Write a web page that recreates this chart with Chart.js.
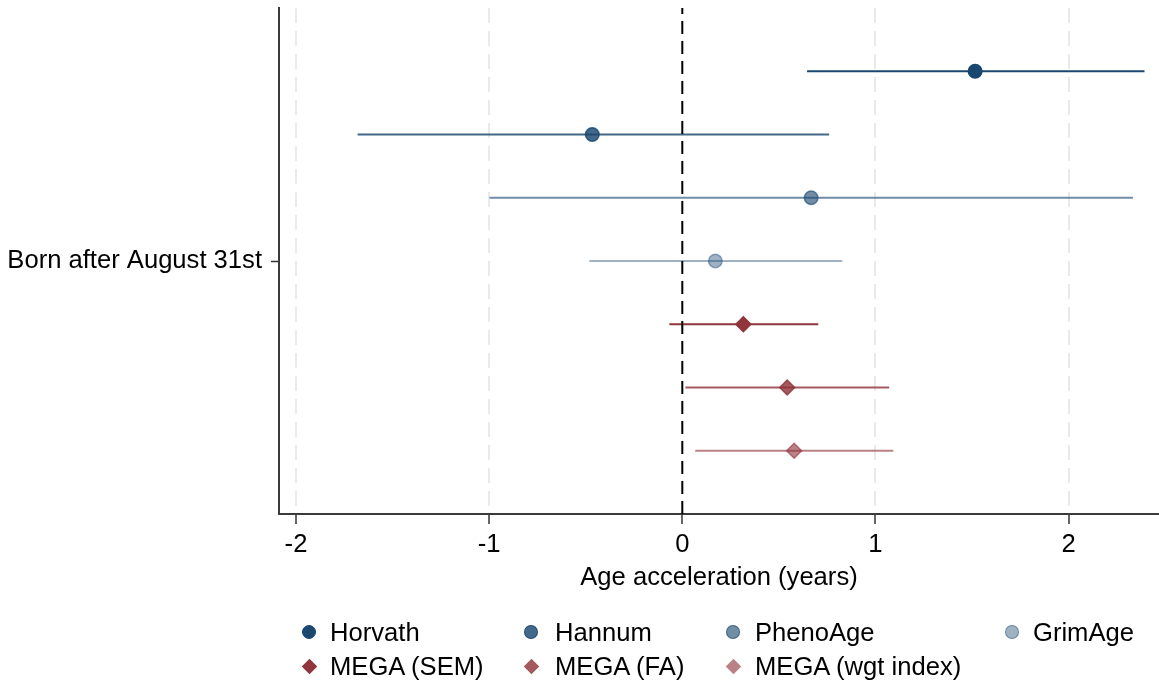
<!DOCTYPE html>
<html>
<head>
<meta charset="utf-8">
<script src="https://cdn.jsdelivr.net/npm/chart.js@4/dist/chart.umd.min.js"></script>
<style>
  html, body { margin: 0; padding: 0; background: #fff; }
  #wrap { position: relative; width: 1159px; height: 684px; overflow: hidden; }
  canvas { position: absolute; left: 0; top: 0; }
  .lg { position: absolute; font-family: 'Liberation Sans', Arial, sans-serif; font-size: 25.6px; line-height: 30px; color: #000; white-space: nowrap; }
  .mk { position: absolute; box-sizing: border-box; }
</style>
</head>
<body>
<div id="wrap">
  <canvas id="c" width="1159" height="684"></canvas>
  <div id="legend"></div>
</div>
<script>
// ---- data ----
const models = ['Horvath', 'Hannum', 'PhenoAge', 'GrimAge', 'MEGA (SEM)', 'MEGA (FA)', 'MEGA (wgt index)'];
const estimates = [1.516, -0.466, 0.667, 0.171, 0.316, 0.543, 0.579];
const ciLow = [0.646, -1.681, -0.998, -0.481, -0.067, 0.016, 0.067];
const ciHigh = [2.393, 0.760, 2.333, 0.828, 0.704, 1.071, 1.092];
const rowPos = [7, 6, 5, 4, 3, 2, 1];
const xTicks = [-2, -1, 0, 1, 2];
const yCategoryLabel = 'Born after August 31st';
const yCategoryPos = 4;
const xTitle = 'Age acceleration (years)';

// ---- styles ----
const seriesColors = [
  'rgba(26,71,111,1)', 'rgba(26,71,111,0.82)', 'rgba(26,71,111,0.62)', 'rgba(26,71,111,0.42)',
  'rgba(144,53,59,1)', 'rgba(144,53,59,0.82)', 'rgba(144,53,59,0.62)'
];
const seriesShapes = ['circle', 'circle', 'circle', 'circle', 'rectRot', 'rectRot', 'rectRot'];
const FS = 25.6;

Chart.defaults.font.family = "'Liberation Sans', Arial, sans-serif";
Chart.defaults.color = '#000';

const datasets = [];
models.forEach((m, i) => {
  datasets.push({
    type: 'line',
    label: m + ' CI',
    data: [{x: ciLow[i], y: rowPos[i]}, {x: ciHigh[i], y: rowPos[i]}],
    borderColor: seriesColors[i],
    borderWidth: 2.2,
    pointRadius: 0,
    fill: false,
    order: 2
  });
  datasets.push({
    type: 'scatter',
    label: m,
    data: [{x: estimates[i], y: rowPos[i]}],
    backgroundColor: seriesColors[i],
    borderColor: seriesColors[i],
    borderWidth: 1.5,
    pointStyle: seriesShapes[i],
    pointRadius: seriesShapes[i] === 'circle' ? 6.8 : 7.5,
    order: 0
  });
});
// zero reference line
datasets.push({
  type: 'line',
  label: 'zero',
  data: [{x: 0, y: 0}, {x: 0, y: 8}],
  borderColor: '#000',
  borderWidth: 2,
  borderDash: [13, 7],
  pointRadius: 0,
  fill: false,
  order: 1
});

new Chart(document.getElementById('c'), {
  type: 'scatter',
  data: { datasets },
  options: {
    responsive: false,
    animation: false,
    devicePixelRatio: 1,
    layout: { autoPadding: false, padding: { top: 8, right: 0, bottom: 0, left: 0 } },
    plugins: { legend: { display: false }, tooltip: { enabled: false } },
    scales: {
      x: {
        type: 'linear',
        min: -2.088,
        max: 2.468,
        afterBuildTicks: (s) => { s.ticks = xTicks.map(v => ({value: v})); },
        afterFit: (s) => { s.height = 170; },
        ticks: { font: { size: FS }, padding: 6, color: '#000', callback: (v) => String(v) },
        grid: {
          color: (ctx) => (ctx.tick && ctx.tick.value === 0) ? 'rgba(0,0,0,0)' : '#eaeaea',
          lineWidth: 2,
          drawTicks: true,
          tickLength: 10,
          tickColor: '#333',
          tickWidth: 1.5
        },
        border: { display: true, color: '#3a3a3a', width: 2, dash: [15, 8] },
        title: { display: true, text: xTitle, font: { size: FS }, color: '#000', padding: { top: 0, bottom: 91 } }
      },
      y: {
        type: 'linear',
        min: 0,
        max: 8,
        afterBuildTicks: (s) => { s.ticks = [{value: yCategoryPos}]; },
        afterFit: (s) => { s.width = 279; s.paddingTop = 0; s.paddingBottom = 0; },
        ticks: { font: { size: FS }, padding: 9, color: '#000', callback: (v) => v === yCategoryPos ? yCategoryLabel : '' },
        grid: { drawOnChartArea: false, drawTicks: true, tickLength: 8, tickColor: '#333', tickWidth: 1.5 },
        border: { display: true, color: '#3a3a3a', width: 2 }
      }
    }
  }
});

// ---- legend (HTML) ----
const legendCols = [
  {mx: 309, tx: 330}, {mx: 531, tx: 555}, {mx: 733, tx: 755}, {mx: 1012, tx: 1033}
];
const legendRows = [632, 666];
const legend = document.getElementById('legend');
models.forEach((m, i) => {
  const row = i < 4 ? 0 : 1;
  const col = i < 4 ? i : i - 4;
  const cy = legendRows[row];
  const mk = document.createElement('div');
  mk.className = 'mk';
  if (seriesShapes[i] === 'circle') {
    mk.style.left = (legendCols[col].mx - 7) + 'px';
    mk.style.top = (cy - 7) + 'px';
    mk.style.width = '14px';
    mk.style.height = '14px';
    mk.style.borderRadius = '50%';
    mk.style.background = seriesColors[i];
    mk.style.border = '1.5px solid ' + seriesColors[i];
  } else {
    mk.style.left = (legendCols[col].mx - 5.5) + 'px';
    mk.style.top = (cy - 5.5) + 'px';
    mk.style.width = '11px';
    mk.style.height = '11px';
    mk.style.background = seriesColors[i];
    mk.style.transform = 'rotate(45deg)';
  }
  legend.appendChild(mk);
  const t = document.createElement('div');
  t.className = 'lg';
  t.textContent = m;
  t.style.left = legendCols[col].tx + 'px';
  t.style.top = (cy - 15) + 'px';
  legend.appendChild(t);
});
</script>
</body>
</html>
